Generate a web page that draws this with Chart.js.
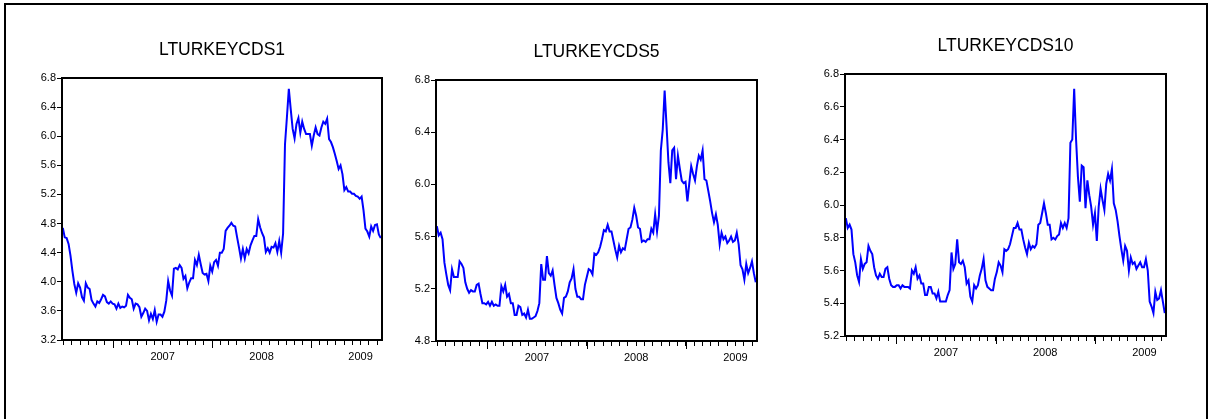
<!DOCTYPE html>
<html>
<head>
<meta charset="utf-8">
<title>LTURKEYCDS</title>
<script src="https://cdn.jsdelivr.net/npm/chart.js@4.4.1/dist/chart.umd.min.js"></script>
<style>
  html, body { margin: 0; padding: 0; background: #fff; }
  body { width: 1224px; height: 419px; position: relative; overflow: hidden; }
  #frame { position: absolute; left: 4px; top: 3px; width: 1200px; height: 440px; border: 2px solid #000; }
  canvas { position: absolute; }
</style>
</head>
<body>
<div id="frame"></div>
<canvas id="cds1"></canvas>
<canvas id="cds5"></canvas>
<canvas id="cds10"></canvas>
<script>
// weekly log CDS levels (mid 2006 .. autumn 2009)
const cds1 = [
    4.74, 4.61, 4.60, 4.52, 4.36, 4.15, 3.97, 3.85, 3.98, 3.92,
    3.79, 3.74, 3.98, 3.92, 3.90, 3.75, 3.70, 3.66, 3.73, 3.71,
    3.76, 3.82, 3.80, 3.72, 3.70, 3.73, 3.70, 3.69, 3.63, 3.70,
    3.64, 3.66, 3.65, 3.67, 3.82, 3.78, 3.76, 3.63, 3.70, 3.69,
    3.65, 3.52, 3.57, 3.63, 3.60, 3.47, 3.56, 3.49, 3.61, 3.45,
    3.55, 3.55, 3.52, 3.59, 3.74, 4.01, 3.88, 3.81, 4.18, 4.19,
    4.17, 4.23, 4.19, 4.04, 4.08, 3.91, 3.99, 4.05, 4.05, 4.30,
    4.23, 4.37, 4.24, 4.12, 4.10, 4.11, 4.01, 4.22, 4.14, 4.27,
    4.30, 4.22, 4.40, 4.40,
    4.45, 4.70, 4.74, 4.77, 4.81, 4.77, 4.76, 4.61, 4.47, 4.32,
    4.45, 4.32, 4.45, 4.39, 4.50, 4.57, 4.63, 4.63, 4.86, 4.75,
    4.67, 4.61, 4.41, 4.46, 4.40, 4.48, 4.47, 4.53, 4.41, 4.56,
    4.40, 4.66, 5.89, 6.26, 6.65, 6.37, 6.10, 5.97, 6.17,
    6.25, 6.05, 6.20, 6.10, 6.03, 6.03, 6.03, 5.87, 6.01, 6.12,
    6.03, 6.01, 6.12, 6.20, 6.17, 6.24, 5.96, 5.92, 5.85, 5.76,
    5.66, 5.55, 5.60, 5.48, 5.26, 5.30, 5.24, 5.24, 5.21, 5.21,
    5.18, 5.17, 5.14, 5.17, 4.98, 4.73, 4.69, 4.62, 4.76, 4.70,
    4.78, 4.79, 4.65, 4.60
];

const cds5 = [
    5.68, 5.61, 5.63, 5.58, 5.40, 5.31, 5.23, 5.19, 5.35, 5.29,
    5.29, 5.29, 5.41, 5.39, 5.36, 5.25, 5.20, 5.17, 5.19, 5.18,
    5.18, 5.23, 5.24, 5.16, 5.09, 5.09, 5.08, 5.10, 5.07, 5.10,
    5.07, 5.08, 5.07, 5.07, 5.22, 5.18, 5.23, 5.14, 5.16, 5.09,
    5.09, 5.00, 5.00, 5.07, 5.06, 5.00, 5.01, 4.98, 5.04, 4.97,
    4.97, 4.98, 4.99, 5.03, 5.09, 5.39, 5.27, 5.27, 5.45, 5.32,
    5.30, 5.34, 5.23, 5.13, 5.09, 5.04, 5.01, 5.13, 5.14, 5.18,
    5.25, 5.28, 5.35, 5.20, 5.14, 5.14, 5.12, 5.12, 5.23, 5.29,
    5.35, 5.34, 5.31, 5.47, 5.46,
    5.48, 5.52, 5.58, 5.65, 5.64, 5.69, 5.64, 5.64, 5.57, 5.50,
    5.44, 5.53, 5.48, 5.51, 5.50, 5.58, 5.66, 5.67, 5.73, 5.82,
    5.76, 5.67, 5.66, 5.56, 5.57, 5.56, 5.58, 5.58, 5.66, 5.63,
    5.77, 5.64, 5.76, 6.26, 6.42, 6.72, 6.45, 6.17, 6.01,
    6.26, 6.28, 6.04, 6.22, 6.12, 6.03, 6.01, 6.02, 5.87, 6.01,
    6.14, 6.08, 6.03, 6.14, 6.22, 6.19, 6.26, 6.04, 6.03, 5.95,
    5.87, 5.78, 5.71, 5.77, 5.69, 5.54, 5.63, 5.58, 5.60, 5.55,
    5.57, 5.60, 5.56, 5.57, 5.63, 5.54, 5.38, 5.35, 5.27, 5.39,
    5.32, 5.36, 5.41, 5.32, 5.25
];

const cds10 = [
    5.92, 5.86, 5.88, 5.85, 5.70, 5.65, 5.57, 5.53, 5.67, 5.61,
    5.64, 5.65, 5.75, 5.72, 5.70, 5.62, 5.57, 5.55, 5.58, 5.56,
    5.56, 5.61, 5.62, 5.55, 5.51, 5.50, 5.50, 5.51, 5.51, 5.49,
    5.51, 5.50, 5.50, 5.50, 5.49, 5.60, 5.58, 5.62, 5.55, 5.57,
    5.52, 5.52, 5.45, 5.45, 5.50, 5.50, 5.46, 5.46, 5.43, 5.47,
    5.41, 5.41, 5.41, 5.41, 5.45, 5.48, 5.71, 5.61, 5.64, 5.79,
    5.65, 5.64, 5.66, 5.62, 5.52, 5.54, 5.44, 5.41, 5.51, 5.49,
    5.51, 5.57, 5.61, 5.67, 5.54, 5.50, 5.49, 5.48, 5.48, 5.55,
    5.59, 5.65, 5.63, 5.59, 5.73, 5.72,
    5.73, 5.76, 5.81, 5.86, 5.86, 5.89, 5.85, 5.85, 5.79, 5.74,
    5.70, 5.77, 5.73, 5.75, 5.74, 5.76, 5.88, 5.89, 5.95, 6.01,
    5.95, 5.88, 5.88, 5.79, 5.80, 5.79, 5.81, 5.82, 5.89, 5.86,
    5.89, 5.86, 5.92, 6.38, 6.40, 6.71, 6.40, 6.17, 6.02,
    6.24, 6.23, 5.98, 6.15, 6.06, 5.99, 5.88, 5.95, 5.78, 5.99,
    6.10, 6.03, 5.97, 6.13, 6.19, 6.15, 6.22, 6.01, 5.97, 5.90,
    5.81, 5.73, 5.66, 5.75, 5.72, 5.60, 5.68, 5.64, 5.65, 5.61,
    5.63, 5.65, 5.62, 5.62, 5.67, 5.60, 5.41, 5.38, 5.34, 5.47,
    5.42, 5.43, 5.48, 5.41, 5.34
];

// time axis, in months counted from January 2006
const firstWeek = 5.9;
const lastWeek = 44.45;
const monthTicks = [];
for (let m = 6; m <= 44; m++) monthTicks.push(m);
const yearTicks = [12, 24, 36];
const yearLabels = { 18: '2007', 30: '2008', 42: '2009' };

const FONT = "'Liberation Sans', Arial, sans-serif";
Chart.defaults.font.family = FONT;
Chart.defaults.color = '#000';

const Y_W = 34;     // y axis box width
const X_H = 30;     // x axis box height
const TOP_H = 46;   // space above the plot box for the title

// plot frame, year ticks and the title centred over the plot box
const boxPlugin = {
    id: 'box',
    afterDatasetsDraw(chart, args, opts) {
        const a = chart.chartArea;
        const ctx = chart.ctx;
        ctx.save();
        ctx.strokeStyle = '#000';
        ctx.lineWidth = 2;
        ctx.strokeRect(a.left, a.top, a.right - a.left, a.bottom - a.top);

        const xs = chart.scales.x;
        ctx.lineWidth = 1;
        ctx.beginPath();
        yearTicks.forEach(v => {
            const px = Math.round(xs.getPixelForValue(v)) + 0.5;
            ctx.moveTo(px, a.bottom);
            ctx.lineTo(px, a.bottom + 8);
        });
        ctx.stroke();

        ctx.fillStyle = '#000';
        ctx.font = '17.5px ' + FONT;
        ctx.textAlign = 'center';
        ctx.textBaseline = 'middle';
        ctx.fillText(opts.text, (a.left + a.right) / 2, a.top - 28);
        ctx.restore();
    }
};

function drawPanel(id, title, values, yMin, yMax, yStep, area) {
    const [L, T, R, B] = area;
    const canvas = document.getElementById(id);
    canvas.width = R - L + 2 * Y_W;
    canvas.height = B - T + TOP_H + X_H;
    canvas.style.left = (L - Y_W) + 'px';
    canvas.style.top = (T - TOP_H) + 'px';

    const points = values.map((v, i) => ({
        x: firstWeek + i * (lastWeek - firstWeek) / (values.length - 1),
        y: v
    }));

    new Chart(canvas, {
        type: 'line',
        data: {
            datasets: [{
                data: points,
                borderColor: '#0000ff',
                borderWidth: 2,
                pointRadius: 0,
                tension: 0,
                fill: false
            }]
        },
        options: {
            responsive: false,
            animation: false,
            devicePixelRatio: 1,
            layout: { padding: { top: TOP_H, right: Y_W } },
            plugins: {
                legend: { display: false },
                tooltip: { enabled: false },
                title: { display: false },
                box: { text: title }
            },
            scales: {
                x: {
                    type: 'linear',
                    min: 5.8,
                    max: 44.6,
                    afterBuildTicks: s => { s.ticks = monthTicks.map(v => ({ value: v })); },
                    afterFit: s => { s.height = X_H; },
                    border: { display: false },
                    grid: { drawOnChartArea: false, tickLength: 5, tickColor: '#000', tickWidth: 1 },
                    ticks: {
                        autoSkip: false,
                        maxRotation: 0,
                        padding: 5,
                        font: { size: 11 },
                        callback: v => yearLabels[v] || ''
                    }
                },
                y: {
                    min: yMin,
                    max: yMax,
                    afterFit: s => { s.width = Y_W; },
                    border: { display: false },
                    grid: { drawOnChartArea: false, tickLength: 5, tickColor: '#000', tickWidth: 1 },
                    ticks: {
                        stepSize: yStep,
                        padding: 1,
                        font: { size: 11 },
                        callback: v => Number(v).toFixed(1)
                    }
                }
            }
        },
        plugins: [boxPlugin]
    });
}

drawPanel('cds1', 'LTURKEYCDS1', cds1, 3.2, 6.8, 0.4, [62, 78, 382, 340]);
drawPanel('cds5', 'LTURKEYCDS5', cds5, 4.8, 6.8, 0.4, [436, 80, 757, 341]);
drawPanel('cds10', 'LTURKEYCDS10', cds10, 5.2, 6.8, 0.2, [845, 74, 1166, 336]);
</script>
</body>
</html>
